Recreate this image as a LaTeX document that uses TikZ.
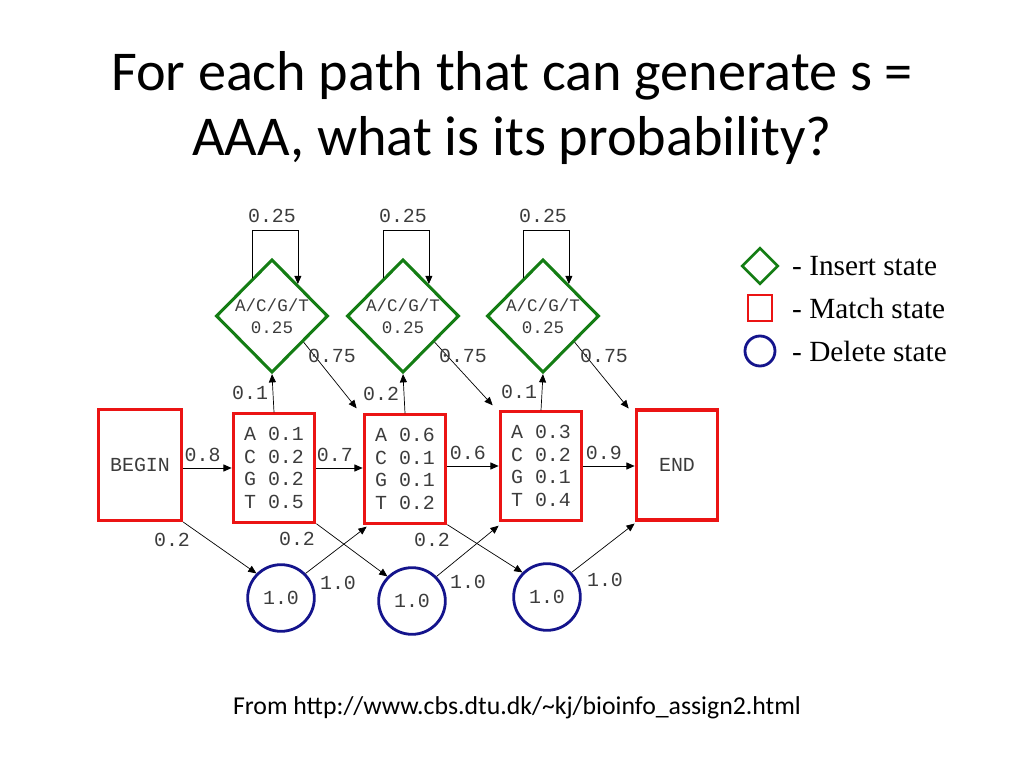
\documentclass[tikz,border=0pt]{standalone}
\usepackage{fontspec}
\setmainfont{Carlito}
\newfontfamily\monof{Liberation Mono}
\newfontfamily\serf{Liberation Serif}
\usetikzlibrary{shapes.geometric,arrows.meta,calc}
\definecolor{mred}{RGB}{235,20,20}
\definecolor{igreen}{RGB}{20,125,20}
\definecolor{dblue}{RGB}{20,20,140}
\definecolor{tgray}{RGB}{60,60,60}
\begin{document}
\begin{tikzpicture}[x=0.03cm,y=-0.03cm,
  lab/.style={font=\monof\fontsize{17}{18}\selectfont,text=tgray,inner sep=0},
  mbox/.style={draw=mred,line width=2.6pt,minimum width=2.45cm,minimum height=3.25cm,inner sep=0,font=\monof\fontsize{17}{19.5}\selectfont,text=tgray,align=left},
  ins/.style={diamond,draw=igreen,line width=2.6pt,minimum width=3.36cm,minimum height=3.4cm,inner sep=0,font=\monof\fontsize{15}{19}\selectfont,text=tgray,align=center},
  del/.style={circle,draw=dblue,line width=2.4pt,minimum size=2.0cm,inner sep=0,font=\monof\fontsize{17}{18}\selectfont,text=tgray},
  arr/.style={-{Triangle[length=7pt,width=6pt]},line width=0.6pt},
  leg/.style={font=\serf\fontsize{25}{26}\selectfont,anchor=west,inner sep=0}]
\useasboundingbox (0,0) rectangle (1024,768);
\node[font=\fontsize{48}{55}\selectfont,align=center] (title) at (512,108) {For each path that can generate s =\\AAA, what is its probability?};
\node[font=\fontsize{22}{24}\selectfont] (foot) at (517,708) {From http://www.cbs.dtu.dk/\textasciitilde kj/bioinfo\_assign2.html};
% match states
\node[mbox,minimum width=2.5cm,minimum height=3.33cm] (b) at (140,465) {BEGIN};
\node[mbox] (m1) at (274,468) {A 0.1\\C 0.2\\G 0.2\\T 0.5};
\node[mbox] (m2) at (405,469) {A 0.6\\C 0.1\\G 0.1\\T 0.2};
\node[mbox] (m3) at (541,466) {A 0.3\\C 0.2\\G 0.1\\T 0.4};
\node[mbox,minimum width=2.45cm,minimum height=3.3cm] (e) at (677,465) {END};
% insert states
\node[ins] (i1) at (272,316) {A/C/G/T\\0.25};
\node[ins] (i2) at (403,316) {A/C/G/T\\0.25};
\node[ins] (i3) at (543,316) {A/C/G/T\\0.25};
% delete states
\node[del] (d1) at (281,598) {1.0};
\node[del] (d2) at (412,601) {1.0};
\node[del] (d3) at (547,597) {1.0};
% self loops
\foreach \i in {i1,i2,i3}{
  \coordinate (\i a) at ($(\i.north)!0.35!(\i.west)$);
  \coordinate (\i b) at ($(\i.north)!0.45!(\i.east)$);
  \draw[arr] (\i a) -- ++(0,-48) coordinate (\i c) -| (\i b);
  \node[lab] at ($(\i.north)+(0,-42)$) {0.25};
}
% horizontal
\draw[arr] (b.east|-m1) -- node[lab,above=5pt,pos=0.4]{0.8} (m1.west);
\draw[arr] (m1.east) -- node[lab,above=5pt,pos=0.4]{0.7} (m2.west|-m1);
\draw[arr] (m2.east|-m3) -- node[lab,above=5pt,pos=0.4]{0.6} (m3.west);
\draw[arr] (m3.east) -- node[lab,above=5pt,pos=0.4]{0.9} (e.west|-m3);
% match to insert
\draw[arr] (m1.north) -- node[lab,left=4pt,pos=0.5]{0.1} (i1.south);
\draw[arr] (m2.north) -- node[lab,left=4pt,pos=0.5]{0.2} (i2.south);
\draw[arr] (m3.north) -- node[lab,left=4pt,pos=0.5]{0.1} (i3.south);
% insert to next match
\coordinate (t2) at ($(m2.north west)+(-6,-5)$);
\coordinate (t3) at ($(m3.north west)+(-6,-5)$);
\coordinate (t4) at ($(e.north west)+(-6,0)$);
\draw[arr] ($(i1.south)!0.55!(i1.east)$) -- (t2);
\draw[arr] ($(i2.south)!0.55!(i2.east)$) -- (t3);
\draw[arr] ($(i3.south)!0.55!(i3.east)$) -- (t4);
\node[lab] at (332,356) {0.75};
\node[lab] at (463,356) {0.75};
\node[lab] at (604,356) {0.75};
% match to delete
\draw[arr] (b.south east) -- (d1.north west);
\draw[arr] (m1.south east) -- (d2.north west);
\draw[arr] (m2.south east) -- (d3.north west);
\node[lab] at (172,540) {0.2};
\node[lab] at (297,539) {0.2};
\node[lab] at (432,540) {0.2};
% delete to next match
\draw[arr] (d1.north east) -- ($(m2.south west)+(4,2)$);
\draw[arr] (d2.north east) -- ($(m3.south west)+(0,4)$);
\draw[arr] (d3.north east) -- ($(e.south west)+(0,2)$);
\node[lab] at (338,583) {1.0};
\node[lab] at (468,582) {1.0};
\node[lab] at (605,580) {1.0};
% legend
\node[diamond,draw=igreen,line width=2.4pt,minimum width=1.1cm,minimum height=1.1cm,inner sep=0] (li) at (760,266) {};
\node[draw=mred,line width=2.4pt,minimum width=0.72cm,minimum height=0.78cm,inner sep=0] (lm) at (760,308) {};
\node[circle,draw=dblue,line width=2.4pt,minimum size=0.9cm,inner sep=0] (ld) at (760,351) {};
\node[leg] at (792,266) {- Insert state};
\node[leg] at (792,308) {- Match state};
\node[leg] at (792,351) {- Delete state};
\end{tikzpicture}
\end{document}
